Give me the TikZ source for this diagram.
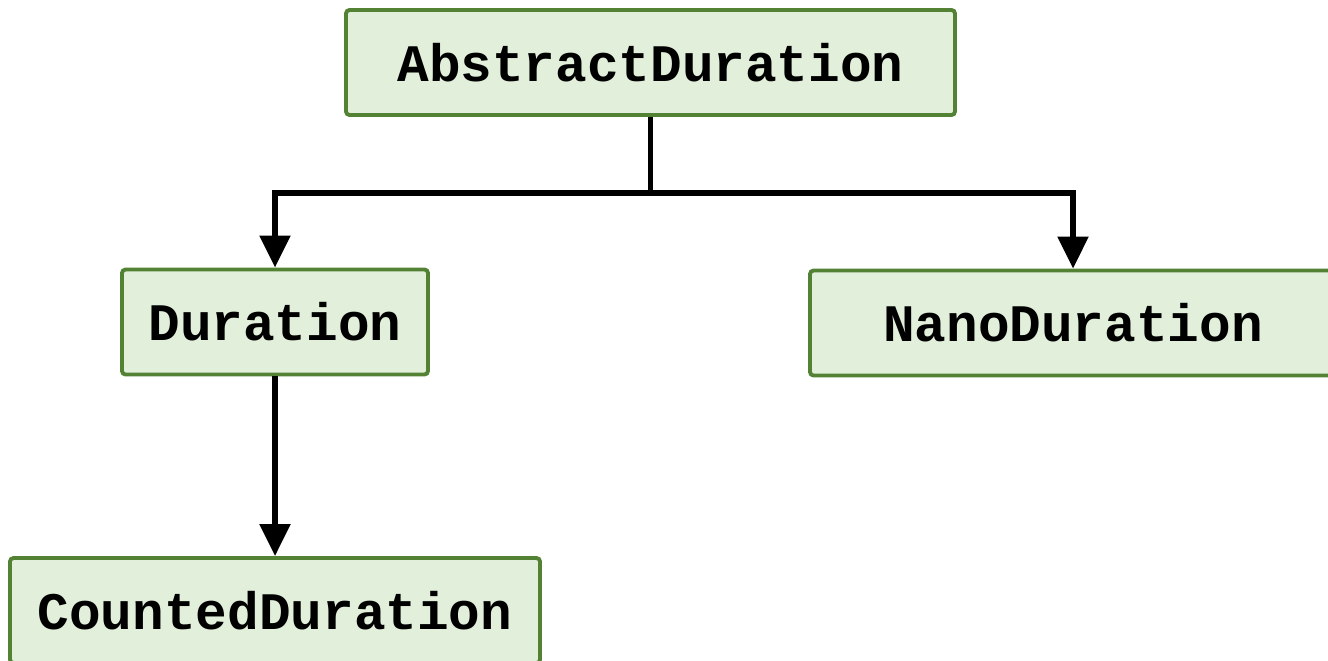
\documentclass[tikz,border=0pt]{standalone}
\usepackage{fontspec}
\setmonofont{Liberation Mono}
\usetikzlibrary{arrows.meta}

\begin{document}
\begin{tikzpicture}[
  every node/.style={font=\ttfamily\bfseries\fontsize{15}{18}\selectfont},
  classbox/.style={rectangle, draw=green!40!black!70!olive, line width=1.1pt, rounded corners=1pt,
    fill=green!10!white!95!yellow, minimum height=1.05cm, inner sep=0pt},
  inherit/.style={-{Triangle[width=0.3cm, length=0.32cm]}, line width=1.6pt},
]
\definecolor{boxline}{HTML}{548235}
\definecolor{boxfill}{HTML}{E2EFDA}
\tikzset{classbox/.append style={draw=boxline, fill=boxfill}}

\clip (0, 0) rectangle (13.28, 6.60);
\useasboundingbox (0, 0) rectangle (13.28, 6.60);

% class hierarchy
\node[classbox, minimum width=6.09cm] (abs) at (6.505, 5.975) {AbstractDuration};
\node[classbox, minimum width=3.06cm] (dur) at (2.75, 3.38) {Duration};
\node[classbox, minimum width=5.26cm] (nano) at (10.73, 3.37) {NanoDuration};
\node[classbox, minimum width=5.30cm] (cnt) at (2.75, 0.495) {CountedDuration};

% arrows
\coordinate (split) at ([yshift=-0.76cm]abs.south);
\draw[line width=1.6pt] (abs.south) -- (split);
\draw[inherit] (split) -| (dur.north);
\draw[inherit] (split) -| (nano.north);
\draw[inherit] (dur.south) -- (cnt.north);

\end{tikzpicture}
\end{document}
